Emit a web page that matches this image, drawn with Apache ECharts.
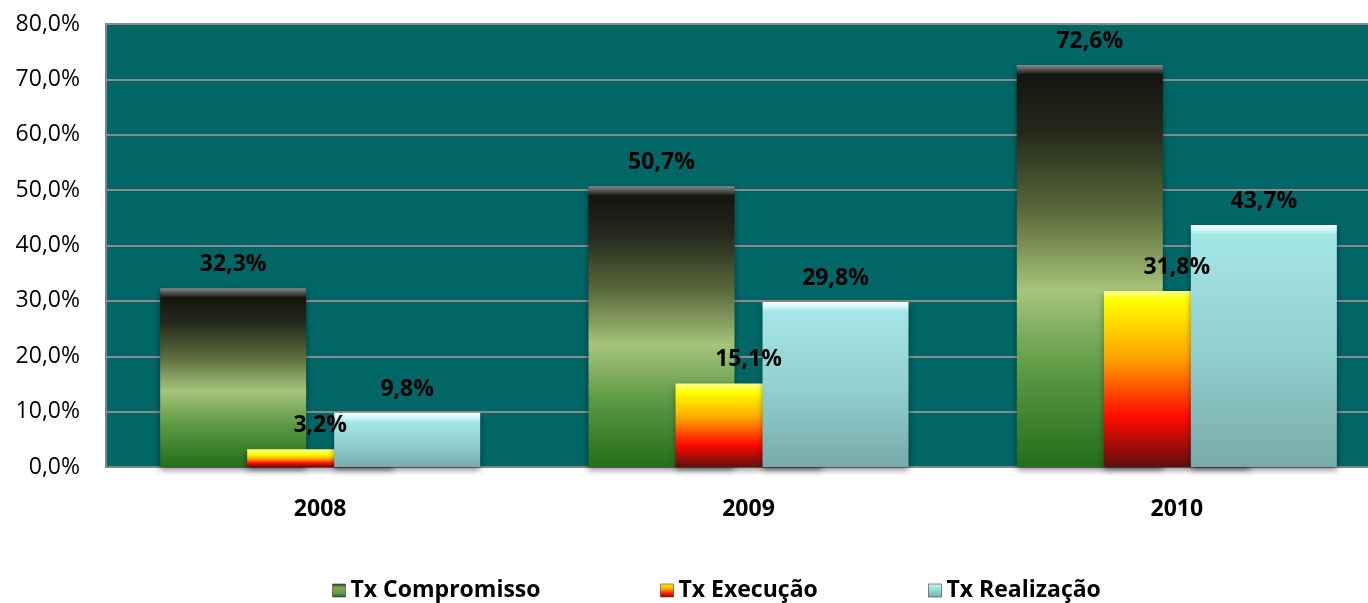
<!DOCTYPE html>
<html>
<head>
<meta charset="utf-8">
<script src="https://cdn.jsdelivr.net/npm/echarts@6/dist/echarts.min.js"></script>
<style>
html,body{margin:0;padding:0;background:#fff;}
#chart{width:1368px;height:603px;}
</style>
</head>
<body>
<div id="chart"></div>
<script>
var categories = ['2008', '2009', '2010'];
var seriesNames = ['Tx Compromisso', 'Tx Execução', 'Tx Realização'];
var compromisso = [32.3, 50.7, 72.6];
var execucao = [3.2, 15.1, 31.8];
var realizacao = [9.8, 29.8, 43.7];
var yTicks = { min: 0, max: 80, interval: 10 };

var FONT = 'Open Sans';
var PX_PER_UNIT = 443 / 80; // approximate pixel height of one percentage unit (for bevel size)

function grad(stops) {
  return new echarts.graphic.LinearGradient(0, 0, 0, 1, stops);
}
var baseStops = [
  [[0, '#141410'], [0.15, '#262a1c'], [0.35, '#5a6a3c'], [0.55, '#a6c47a'], [0.75, '#5e9a44'], [1, '#246e1a']],
  [[0, '#ffff00'], [0.35, '#ffa200'], [0.7, '#ff0a00'], [1, '#5e0f0f']],
  [[0, '#a4e6e6'], [0.5, '#92cfcf'], [1, '#78aaaa']]
];
var legendStops = [
  [[0, '#2a3320'], [0.3, '#7fa858'], [0.7, '#5e9a44'], [1, '#2a5a1c']],
  [[0, '#ffff00'], [0.4, '#ffa200'], [0.75, '#ff0a00'], [1, '#7a1010']],
  [[0, '#d8f8f8'], [0.3, '#a4e6e6'], [1, '#78aaaa']]
];
var bevelColors = [
  ['#8a8a8a', '#5a5a56', '#1c1c18'],
  ['#ffff90', '#ffff50', '#ffff00'],
  ['#f4ffff', '#d8fafa', '#a8e8e8']
];
function itemColor(si, v) {
  var b = Math.min(0.3, 9 / (v * PX_PER_UNIT));
  var stops = [
    { offset: 0, color: bevelColors[si][0] },
    { offset: b * 0.45, color: bevelColors[si][1] },
    { offset: b, color: bevelColors[si][2] }
  ];
  baseStops[si].forEach(function (s) {
    var off = b + 0.001 + s[0] * (1 - b - 0.001);
    stops.push({ offset: Math.min(1, off), color: s[1] });
  });
  return grad(stops);
}
function stopsToGrad(arr) {
  return grad(arr.map(function (s) { return { offset: s[0], color: s[1] }; }));
}
function fmt(v) { return v.toFixed(1).replace('.', ',') + '%'; }

var allData = [compromisso, execucao, realizacao];
var series = allData.map(function (arr, si) {
  return {
    name: seriesNames[si],
    type: 'bar',
    barWidth: 146,
    barGap: '-40.4%',
    itemStyle: {
      color: stopsToGrad(baseStops[si]),
      shadowColor: 'rgba(0,0,0,0.45)',
      shadowBlur: 6,
      shadowOffsetY: 3
    },
    label: {
      show: true,
      position: 'top',
      distance: 12,
      fontFamily: FONT,
      fontSize: 23,
      fontWeight: 'bold',
      color: '#000',
      formatter: function (p) { return fmt(p.value); }
    },
    data: arr.map(function (v) {
      return { value: v, itemStyle: { color: itemColor(si, v) } };
    })
  };
});

var legendLefts = [332, 660, 928];
var legends = seriesNames.map(function (n, i) {
  return {
    data: [{ name: n, itemStyle: { color: stopsToGrad(legendStops[i]), borderColor: 'rgba(60,60,60,0.6)', borderWidth: 1 } }],
    left: legendLefts[i],
    top: 579,
    padding: 0,
    itemWidth: 13,
    itemHeight: 13,
    itemGap: 0,
    icon: 'rect',
    textStyle: { fontFamily: FONT, fontSize: 23, fontWeight: 'bold', color: '#000' },
    selectedMode: false
  };
});

var chart = echarts.init(document.getElementById('chart'), null, { renderer: 'canvas' });
chart.setOption({
  animation: false,
  backgroundColor: '#ffffff',
  legend: legends,
  grid: {
    left: 106, width: 1285, top: 24, bottom: 136,
    outerBoundsMode: 'none',
    containLabel: false,
    show: true,
    backgroundColor: '#006666',
    borderColor: '#858585',
    borderWidth: 2
  },
  xAxis: {
    type: 'category',
    data: categories,
    axisTick: { show: false },
    axisLine: { show: true, lineStyle: { color: '#858585', width: 2 } },
    axisLabel: { fontFamily: FONT, fontSize: 23, fontWeight: 'bold', color: '#000', margin: 31 }
  },
  yAxis: {
    type: 'value',
    min: yTicks.min,
    max: yTicks.max,
    interval: yTicks.interval,
    axisLine: { show: true, lineStyle: { color: '#858585', width: 2 } },
    axisTick: { show: false },
    splitLine: { show: true, lineStyle: { color: '#8a8a8a', width: 2 } },
    axisLabel: {
      fontFamily: FONT, fontSize: 23, color: '#000', margin: 26,
      formatter: function (v) { return fmt(v); }
    }
  },
  series: series
});
</script>
</body>
</html>
